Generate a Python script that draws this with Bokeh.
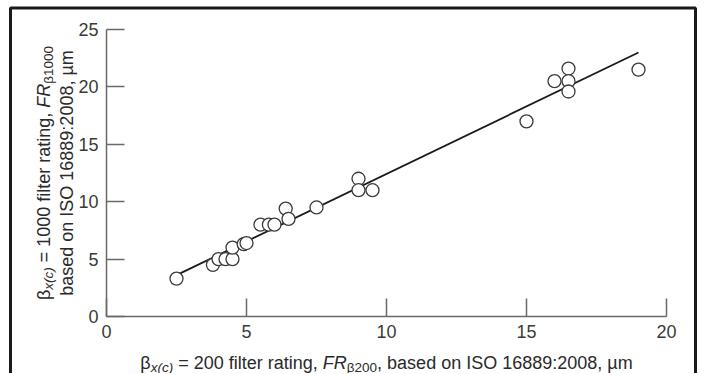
import math
from bokeh.plotting import figure
from bokeh.models import Range1d, FixedTicker, Label, BoxAnnotation
from bokeh.embed import file_html
from bokeh.resources import INLINE

# ---- data ----
beta200 = [2.5, 3.8, 4.0, 4.25, 4.5, 4.5, 4.9, 5.0, 5.5, 5.8, 6.0, 6.4, 6.5, 7.5,
           9.0, 9.0, 9.5, 15.0, 16.0, 16.5, 16.5, 16.5, 19.0]
beta1000 = [3.3, 4.5, 5.0, 5.0, 5.0, 6.0, 6.3, 6.4, 8.0, 8.0, 8.0, 9.4, 8.5, 9.5,
            12.0, 11.0, 11.0, 17.0, 20.5, 21.6, 20.5, 19.6, 21.5]
fit_x = [2.5, 19.0]
fit_y = [3.6, 23.0]
x_ticks = [0, 5, 10, 15, 20]
y_ticks = [0, 5, 10, 15, 20, 25]
x_bounds = (0, 20)
y_bounds = (0, 25)

FONT = "Liberation Sans"
W, H = 704, 373
# pixel position (inside the figure) of the axes' ends
AX_L, AX_R = 106, 666     # x = 0 .. 20
AX_B, AX_T = 316, 29      # y = 0 .. 25
SX = (AX_R - AX_L) / (x_bounds[1] - x_bounds[0])
SY = (AX_B - AX_T) / (y_bounds[1] - y_bounds[0])


def fx_to_data(fx):
    return x_bounds[0] + (fx - AX_L) / SX


def fy_to_data(fy):
    return y_bounds[0] + (AX_B - fy) / SY


p = figure(width=W, height=H, output_backend="svg", toolbar_location=None,
           x_range=Range1d(fx_to_data(0), fx_to_data(W)),
           y_range=Range1d(fy_to_data(H), fy_to_data(0)),
           min_border=0, min_border_left=0, min_border_right=0,
           min_border_top=0, min_border_bottom=0)
p.title.visible = False
p.grid.visible = False
p.outline_line_color = None
p.background_fill_color = "white"
p.border_fill_color = "white"

for ax, ticks, bnds in ((p.xaxis[0], x_ticks, x_bounds), (p.yaxis[0], y_ticks, y_bounds)):
    ax.fixed_location = 0
    ax.bounds = bnds
    ax.ticker = FixedTicker(ticks=ticks)
    ax.major_tick_in = 18
    ax.major_tick_out = 0
    ax.minor_tick_line_color = None
    ax.axis_line_color = "#6a6a6a"
    ax.axis_line_width = 1.5
    ax.major_tick_line_color = "#6a6a6a"
    ax.major_tick_line_width = 1.5
    ax.major_label_text_font = FONT
    ax.major_label_text_font_size = "18px"
    ax.major_label_text_color = "#3a3a3a"
    ax.major_label_standoff = 8

p.line(fit_x, fit_y, line_color="#1a1a1a", line_width=1.8)
p.scatter(beta200, beta1000, marker="circle", size=13, fill_color="white",
          line_color="#3a3a3a", line_width=1.3)

# ---- outer box (top, left, right; its bottom lies below the picture) ----
p.add_layout(BoxAnnotation(left=fx_to_data(10), right=fx_to_data(695),
                           top=fy_to_data(7.5), bottom=fy_to_data(H + 20),
                           fill_alpha=0, line_color="#1a1a1a", line_width=3,
                           line_alpha=1))

# ---- composite axis titles (subscripts / italics) ----
CW = {' ': 278, ',': 278, '.': 278, ':': 278, '=': 584, '(': 333, ')': 333,
      'a': 556, 'b': 556, 'c': 500, 'd': 556, 'e': 556, 'f': 278, 'g': 556,
      'i': 222, 'l': 222, 'm': 833, 'n': 556, 'o': 556, 'r': 333, 's': 500,
      't': 278, 'u': 556, 'x': 500, 'F': 611, 'R': 722, 'I': 278, 'S': 667,
      'O': 778, 'β': 576, 'µ': 576}
for d in "0123456789":
    CW[d] = 556


def twidth(s, size):
    return sum(CW.get(c, 556) for c in s) * size / 1000.0


MAIN, SUB, DROP = 18.0, 13.5, 4.5
TXT = "#2a2a2a"


def pieces_width(pieces):
    return sum(twidth(s, MAIN if kind != "sub" else SUB) for s, kind, style in pieces)


def add_pieces(pieces, start_px, fixed_px, vertical):
    pos = start_px
    for s, kind, style in pieces:
        size = MAIN if kind != "sub" else SUB
        lead = twidth(s[:len(s) - len(s.lstrip(" "))], size)
        shown = s.strip(" ")
        if vertical:
            lab = Label(x=fx_to_data(fixed_px), y=fy_to_data(pos - lead), angle=math.pi / 2,
                        x_offset=DROP if kind == "sub" else 0)
            pos -= twidth(s, size)
        else:
            lab = Label(x=fx_to_data(pos + lead), y=fy_to_data(fixed_px),
                        y_offset=-DROP if kind == "sub" else 0)
            pos += twidth(s, size)
        lab.text = shown
        lab.text_font = FONT
        lab.text_font_size = f"{size}px"
        lab.text_font_style = style
        lab.text_color = TXT
        lab.text_align = "left"
        lab.text_baseline = "alphabetic"
        p.add_layout(lab)


xlabel = [("β", "main", "normal"), ("x(c)", "sub", "italic"),
          (" = 200 filter rating, ", "main", "normal"), ("FR", "main", "italic"),
          ("β200", "sub", "normal"), (", based on ISO 16889:2008, µm", "main", "normal")]
ylabel1 = [("β", "main", "normal"), ("x(c)", "sub", "italic"),
           (" = 1000 filter rating, ", "main", "normal"), ("FR", "main", "italic"),
           ("β1000", "sub", "normal")]
ylabel2 = [("based on ISO 16889:2008, µm", "main", "normal")]

cx = (AX_L + AX_R) / 2
add_pieces(xlabel, cx - pieces_width(xlabel) / 2, 362, False)
cy = (AX_T + AX_B) / 2
add_pieces(ylabel1, cy + pieces_width(ylabel1) / 2, 43, True)
add_pieces(ylabel2, cy + pieces_width(ylabel2) / 2, 66, True)

open("out.html", "w").write(file_html(p, INLINE))
